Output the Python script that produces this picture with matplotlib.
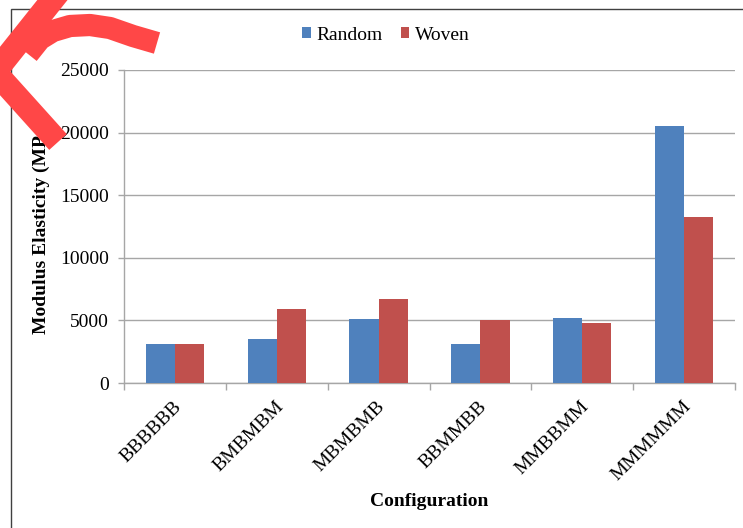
import matplotlib
matplotlib.use("Agg")
import matplotlib.pyplot as plt
from matplotlib.lines import Line2D
from matplotlib.patches import Rectangle
import matplotlib.transforms as mtransforms
import numpy as np

categories = ["BBBBBB", "BMBMBM", "MBMBMB", "BBMMBB", "MMBBMM", "MMMMMM"]
random_vals = [3150, 3550, 5080, 3100, 5190, 20500]
woven_vals = [3150, 5940, 6710, 5000, 4760, 13270]
yticks = [0, 5000, 10000, 15000, 20000, 25000]
series_names = ["Random", "Woven"]
colors = ["#4f81bd", "#c0504d"]

plt.rcParams['font.family'] = ['Liberation Serif', 'DejaVu Serif']

W, H = 743, 528
fig = plt.figure(figsize=(W / 100, H / 100), dpi=100)
ax = fig.add_axes([124 / W, 1 - 383 / H, (735 - 124) / W, (383 - 70) / H])

x = np.arange(len(categories))
bw = 1 / 3.5
ax.bar(x - bw / 2, random_vals, bw, color=colors[0], label=series_names[0], zorder=3)
ax.bar(x + bw / 2, woven_vals, bw, color=colors[1], label=series_names[1], zorder=3)

ax.set_xlim(-0.5, len(categories) - 0.5)
ax.set_ylim(0, 25000)
ax.set_yticks(yticks)
ax.set_yticklabels([str(v) for v in yticks])
ax.yaxis.grid(True, color="#a6a6a6", linewidth=1.0, zorder=0)
ax.set_axisbelow(True)

for s in ["top", "right"]:
    ax.spines[s].set_visible(False)
for s in ["left", "bottom"]:
    ax.spines[s].set_color("#a6a6a6")
    ax.spines[s].set_linewidth(1.0)

ax.tick_params(axis="y", length=4, width=1, color="#a6a6a6", pad=7, labelsize=14, labelcolor="black")
# x: major ticks at category boundaries, labels at centers
ax.set_xticks(np.arange(-0.5, len(categories), 1.0))
ax.set_xticklabels([])
ax.set_xticks(x, minor=True)
ax.set_xticklabels(categories, minor=True, rotation=45, ha="right", va="center",
                   rotation_mode="anchor", fontsize=14)
ax.tick_params(axis="x", which="major", length=5, width=1, color="#a6a6a6")
ax.tick_params(axis="x", which="minor", length=0, pad=15)
offset = mtransforms.ScaledTranslation(4 / 100, 0, fig.dpi_scale_trans)
for lab in ax.get_xticklabels(minor=True):
    lab.set_transform(lab.get_transform() + offset)

ax.set_ylabel("Modulus Elasticity (MPa)", fontsize=14, fontweight="bold")
ax.yaxis.set_label_coords((50 - 124) / (735 - 124), 0.5)
ax.set_xlabel("Configuration", fontsize=14, fontweight="bold")
ax.xaxis.set_label_coords(0.5, -(502 - 383) / (383 - 70))
ax.xaxis.label.set_va("center")

fig.legend(loc="center", bbox_to_anchor=(386 / W, 1 - 35 / H), ncol=2, frameon=False,
           fontsize=14, handlelength=0.45, handleheight=0.45, handletextpad=0.3,
           columnspacing=0.9)

# outer chart border (partially cropped)
fig.patches.append(Rectangle((11 / W, -0.1), 1.2, 1 - 9 / H + 0.1, transform=fig.transFigure,
                             fill=False, edgecolor="#404040", linewidth=1.0, zorder=0))

# red brush-stroke overlay
def px(pts):
    return [p[0] / W for p in pts], [1 - p[1] / H for p in pts]

strokes = [
    ([(62, -12), (-5, 72)], 17, "projecting"),
    ([(-5, 72), (58, 142)], 17, "butt"),
    ([(-5, 72), (8, 72)], 17, "butt"),
    ([(28, 54), (40, 39), (53, 31), (70, 26), (90, 25), (110, 28), (133, 36), (157, 43)], 16, "butt"),
]
for pts, lw, cap in strokes:
    xs, ys = px(pts)
    fig.add_artist(Line2D(xs, ys, transform=fig.transFigure, color="#ff4747",
                          linewidth=lw, solid_capstyle=cap, solid_joinstyle="round", zorder=10))

fig.savefig("out.png", dpi=100)
